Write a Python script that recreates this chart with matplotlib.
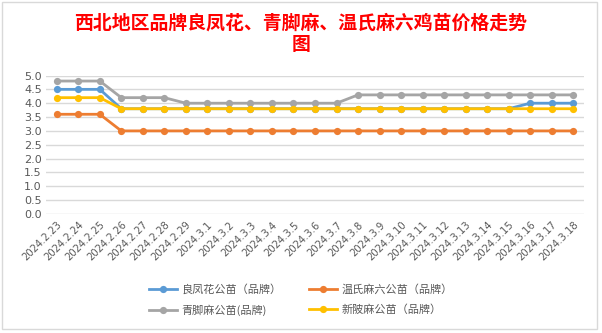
import matplotlib
matplotlib.use("Agg")
import matplotlib.pyplot as plt
from matplotlib.patches import Rectangle

plt.rcParams['font.family'] = ['Noto Sans CJK SC', 'DejaVu Sans']

dates = ["2024.2.23", "2024.2.24", "2024.2.25", "2024.2.26", "2024.2.27", "2024.2.28",
         "2024.2.29", "2024.3.1", "2024.3.2", "2024.3.3", "2024.3.4", "2024.3.5",
         "2024.3.6", "2024.3.7", "2024.3.8", "2024.3.9", "2024.3.10", "2024.3.11",
         "2024.3.12", "2024.3.13", "2024.3.14", "2024.3.15", "2024.3.16", "2024.3.17",
         "2024.3.18"]

liangfenghua = [4.5, 4.5, 4.5, 3.8, 3.8, 3.8, 3.8, 3.8, 3.8, 3.8, 3.8, 3.8, 3.8,
                3.8, 3.8, 3.8, 3.8, 3.8, 3.8, 3.8, 3.8, 3.8, 4.0, 4.0, 4.0]
wenshi = [3.6, 3.6, 3.6, 3.0, 3.0, 3.0, 3.0, 3.0, 3.0, 3.0, 3.0, 3.0, 3.0,
          3.0, 3.0, 3.0, 3.0, 3.0, 3.0, 3.0, 3.0, 3.0, 3.0, 3.0, 3.0]
qingjiaoma = [4.8, 4.8, 4.8, 4.2, 4.2, 4.2, 4.0, 4.0, 4.0, 4.0, 4.0, 4.0, 4.0,
              4.0, 4.3, 4.3, 4.3, 4.3, 4.3, 4.3, 4.3, 4.3, 4.3, 4.3, 4.3]
xinbeima = [4.2, 4.2, 4.2, 3.8, 3.8, 3.8, 3.8, 3.8, 3.8, 3.8, 3.8, 3.8, 3.8,
            3.8, 3.8, 3.8, 3.8, 3.8, 3.8, 3.8, 3.8, 3.8, 3.8, 3.8, 3.8]

labels = ["良凤花公苗（品牌）", "温氏麻六公苗（品牌）", "青脚麻公苗(品牌)", "新陂麻公苗（品牌）"]
colors = ["#5B9BD5", "#ED7D31", "#A5A5A5", "#FFC000"]
yticks = [0.0, 0.5, 1.0, 1.5, 2.0, 2.5, 3.0, 3.5, 4.0, 4.5, 5.0]

W, H = 602, 333
fig = plt.figure(figsize=(W / 100, H / 100), dpi=100)
fig.patch.set_facecolor("white")

# outer chart border
fig.patches.append(Rectangle((2 / W, 4 / H), 595 / W, 327 / H, transform=fig.transFigure,
                             fill=False, edgecolor="#D9D9D9", linewidth=1.0))

ax = fig.add_axes([46 / W, 1 - 214 / H, 538 / W, (214 - 75.5) / H])
x = list(range(len(dates)))
series = [liangfenghua, wenshi, qingjiaoma, xinbeima]
handles = []
for vals, c, lab in zip(series, colors, labels):
    h, = ax.plot(x, vals, color=c, linewidth=2.0, marker="o", markersize=5.2,
                 markeredgewidth=0, label=lab, solid_joinstyle="round")
    handles.append(h)

ax.set_xlim(-0.5, len(dates) - 0.5)
ax.set_ylim(0, 5.0)
ax.set_yticks(yticks)
ax.set_yticklabels([f"{v:.1f}" for v in yticks], fontsize=8, color="#595959",
                   family=["DejaVu Sans"])
ax.set_xticks(x)
ax.set_xticklabels(dates, rotation=45, ha="right", rotation_mode="anchor",
                   fontsize=7.2, color="#595959", family=["DejaVu Sans"])
ax.tick_params(axis="both", length=0, pad=3)
ax.tick_params(axis="x", pad=4)
ax.grid(axis="y", color="#D9D9D9", linewidth=1.0)
ax.set_axisbelow(True)
for s in ax.spines.values():
    s.set_visible(False)

fig.text(0.5, 1 - 34 / H, "西北地区品牌良凤花、青脚麻、温氏麻六鸡苗价格走势\n图",
         ha="center", va="center", color="#FF0000", fontsize=13.6, fontweight="bold",
         linespacing=1.15)

order = [handles[0], handles[2], handles[1], handles[3]]
leg = fig.legend(order, [h.get_label() for h in order], ncol=2, loc="center",
                 bbox_to_anchor=(0.5, 1 - 300 / H), frameon=False, fontsize=8,
                 handlelength=2.5, columnspacing=2.5, labelspacing=0.8,
                 handletextpad=0.4, labelcolor="#595959")

fig.savefig("out.png", dpi=100, facecolor="white")
